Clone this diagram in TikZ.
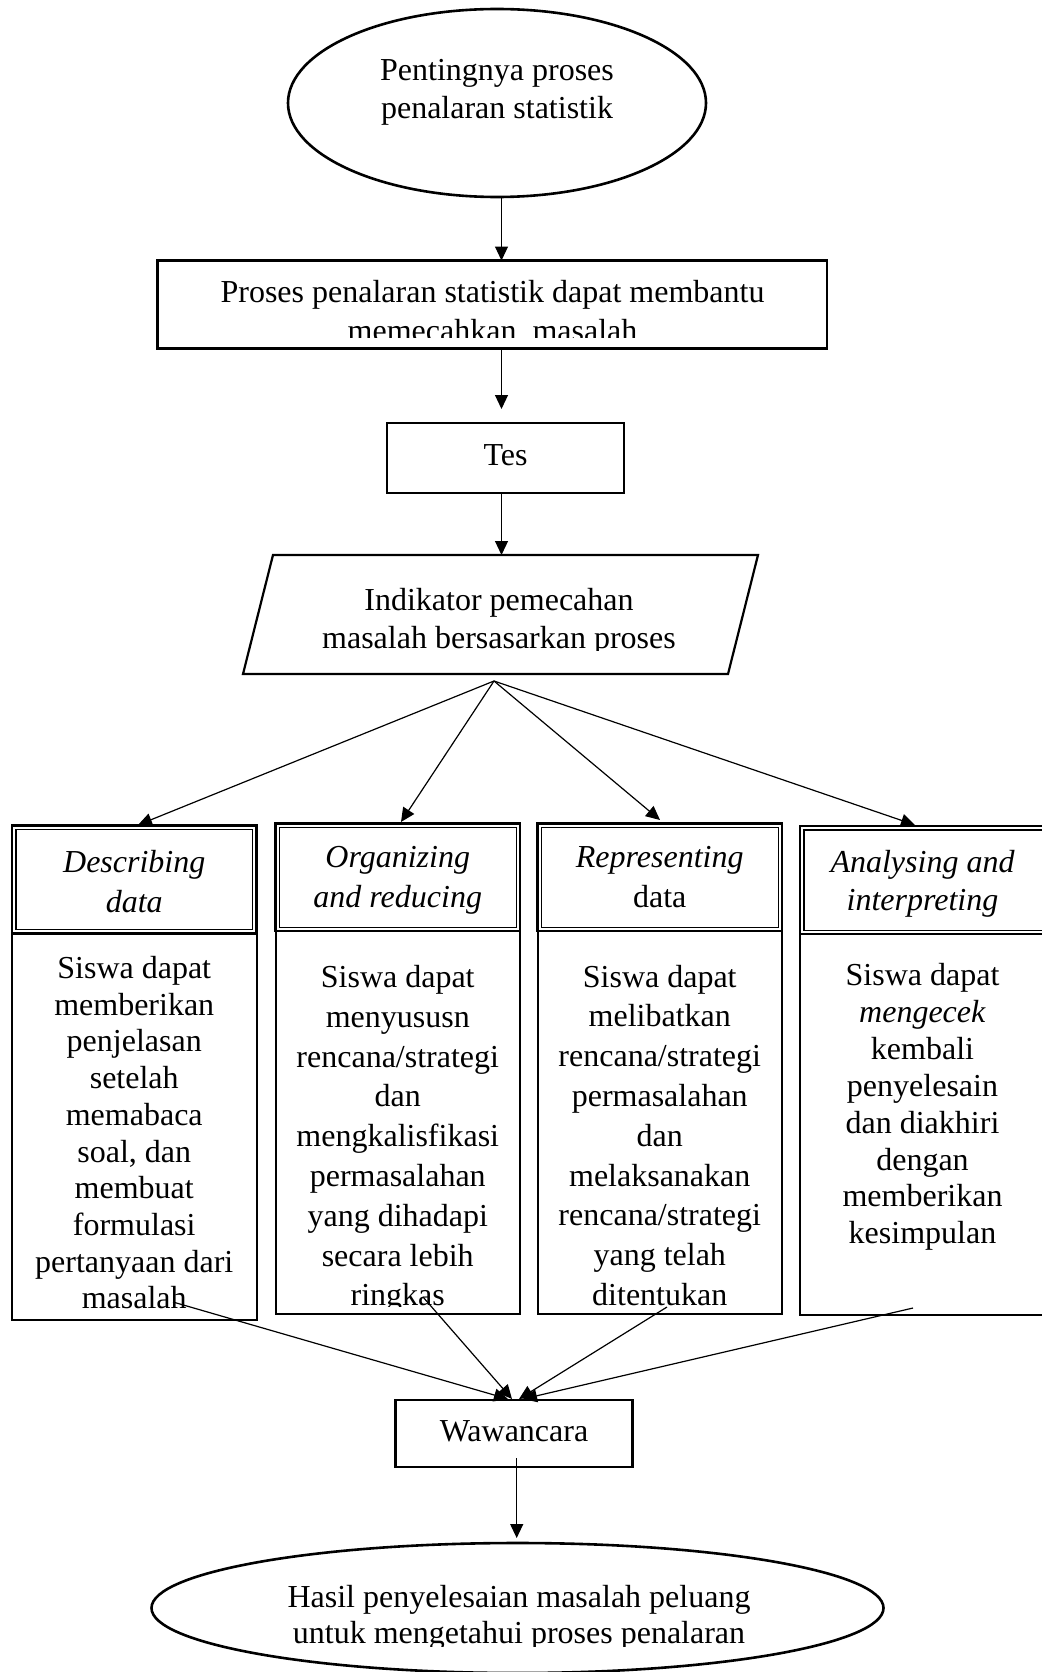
\documentclass[tikz,border=0pt]{standalone}
\usepackage{fontspec}
\setmainfont{Liberation Serif}
\usetikzlibrary{shapes.geometric,arrows.meta}

% Stack of centred text lines: name prefix, x, first baseline, line step, lines
\newcommand{\textlines}[5]{%
  \foreach \ln [count=\k from 0] in {#5} {
    \node[txt] (#1-\k) at (#2, #3 + \k*#4) {\ln};
  }%
}

\begin{document}
\begin{tikzpicture}[x=1pt, y=-1pt,
  every node/.style={inner sep=0pt, outer sep=0pt},
  txt/.style={font=\fontsize{32}{38}\selectfont, anchor=base},
  ital/.style={font=\fontsize{32}{38}\selectfont\itshape, anchor=base},
  oval/.style={draw, ellipse, line width=2.6pt},
  boxframe/.style={draw, rectangle, line width=2.2pt},
  hdrout/.style={draw, rectangle, fill=white, line width=2.6pt},
  hdrin/.style={draw, rectangle, line width=1.4pt},
  bodyframe/.style={draw, rectangle, line width=2pt},
  arr/.style={line width=1.2pt, -{Triangle[length=14pt, width=13pt]}},
]
\useasboundingbox (0,0) rectangle (1041,1672);

% ---------- upper chain ----------
\node[oval, minimum width=418pt, minimum height=188pt] (start) at (497,103) {};
\textlines{starttxt}{497}{81}{38}{Pentingnya proses, penalaran statistik}

\node[boxframe, minimum width=669.5pt, minimum height=88pt] (help) at (492.25,304.5) {};
\begin{scope}
  \clip (158,262) rectangle (827,337);
  \textlines{helptxt}{492.5}{302.5}{39}{Proses penalaran statistik dapat membantu, memecahkan~ masalah}
\end{scope}

\node[boxframe, minimum width=237pt, minimum height=70pt] (tes) at (505.5,458) {};
\node[txt] (testxt) at (505.5,465) {Tes};

% parallelogram
\coordinate (pTL) at (273,555);
\coordinate (pTR) at (758,555);
\coordinate (pBR) at (728,674);
\coordinate (pBL) at (243,674);
\draw[line width=2.2pt] (pTL) -- (pTR) -- (pBR) -- (pBL) -- cycle;
\begin{scope}
  \clip (250,560) rectangle (750,650);
  \textlines{paratxt}{499}{610}{38}{Indikator pemecahan, masalah bersasarkan proses}
\end{scope}

% vertical connectors
\coordinate (ax) at (501.5,0);
\coordinate (gap) at (501.5,409);
\coordinate (ptop) at (501.5,555);
\draw[arr] (start.south -| ax) -- (help.north -| ax);
\draw[arr] (help.south -| ax) -- (gap);
\draw[arr] (tes.south -| ax) -- (ptop);

% ---------- four indicator boxes ----------
\node[bodyframe, minimum width=244.5pt, minimum height=386.5pt] (body1) at (134.25,1126.75) {};
\node[hdrout, minimum width=244.5pt, minimum height=108pt] (head1) at (134.25,879.5) {};
\node[hdrin, minimum width=236.9pt, minimum height=100.4pt] (head1in) at (134.25,879.5) {};

\node[bodyframe, minimum width=244.5pt, minimum height=383pt] (body2) at (397.75,1122.5) {};
\node[hdrout, minimum width=244.5pt, minimum height=107.5pt] (head2) at (397.75,877.25) {};
\node[hdrin, minimum width=236.9pt, minimum height=99.9pt] (head2in) at (397.75,877.25) {};

\node[bodyframe, minimum width=244.5pt, minimum height=383pt] (body3) at (659.75,1122.5) {};
\node[hdrout, minimum width=244.5pt, minimum height=107.5pt] (head3) at (659.75,877.25) {};
\node[hdrin, minimum width=236.9pt, minimum height=99.9pt] (head3in) at (659.75,877.25) {};

\node[bodyframe, minimum width=250pt, minimum height=380.5pt] (body4) at (925,1124.25) {};
\node[hdrout, minimum width=250pt, minimum height=108pt] (head4) at (925,880) {};
\node[hdrin, minimum width=242.4pt, minimum height=100.4pt] (head4in) at (925,880) {};

% headers
\node[ital] (h1a) at (134.25,872) {Describing};
\node[ital] (h1b) at (134.25,912) {data};
\node[ital] (h2a) at (397.75,867.5) {Organizing};
\node[ital] (h2b) at (397.75,907.5) {and reducing};
\node[ital] (h3a) at (659.75,867.5) {Representing};
\node[txt]  (h3b) at (659.75,907) {data};
\node[ital] (h4a) at (922.5,872) {Analysing and};
\node[ital] (h4b) at (922.5,910) {interpreting};

% body texts
\textlines{b1}{134.25}{978.5}{36.7}{Siswa dapat, memberikan, penjelasan, setelah, memabaca, {soal, dan}, membuat, formulasi, pertanyaan dari, masalah}
\begin{scope}
  \clip (277,935) rectangle (518,1306);
  \textlines{b2}{397.75}{987.5}{39.8}{Siswa dapat, menyususn, rencana\slash strategi, dan, mengkalisfikasi, permasalahan, yang dihadapi, secara lebih, ringkas}
\end{scope}
\textlines{b3}{659.75}{987}{39.8}{Siswa dapat, melibatkan, rencana\slash strategi, permasalahan, dan, melaksanakan, rencana\slash strategi, yang telah, ditentukan}
\textlines{b4}{922.5}{985.5}{36.9}{Siswa dapat, \textit{mengecek}, kembali, penyelesain, dan diakhiri, dengan, memberikan, kesimpulan}

% fan of arrows from the parallelogram
\coordinate (fan) at (494,681);
\coordinate (t1) at (138,825);
\coordinate (t2) at (401,822);
\coordinate (t3) at (660,820);
\coordinate (t4) at (915,825);
\foreach \t in {t1,t2,t3,t4} \draw[arr] (fan) -- (\t);

% ---------- interview and result ----------
\node[boxframe, minimum width=237pt, minimum height=67pt] (waw) at (514,1433.5) {};
\node[txt] (wawtxt) at (514,1441.7) {Wawancara};

\coordinate (s1) at (173,1302);
\coordinate (s2) at (423,1297);
\coordinate (s3) at (667,1307);
\coordinate (s4) at (913,1308);
\coordinate (w1) at (508,1399);
\coordinate (w2) at (512,1399);
\coordinate (w3) at (519,1399);
\coordinate (w4) at (523,1399);
\draw[arr] (s1) -- (w1);
\draw[arr] (s2) -- (w2);
\draw[arr] (s3) -- (w3);
\draw[arr] (s4) -- (w4);

\node[oval, minimum width=732pt, minimum height=130pt] (result) at (517.5,1608) {};
\coordinate (wa) at (516.7,1458);
\coordinate (wb) at (516.7,1538);
\draw[arr] (wa) -- (wb);
\begin{scope}
  \clip (160,1550) rectangle (880,1646);
  \textlines{restxt}{519}{1607}{36}{Hasil penyelesaian masalah peluang, untuk mengetahui proses penalaran}
\end{scope}
\end{tikzpicture}
\end{document}
